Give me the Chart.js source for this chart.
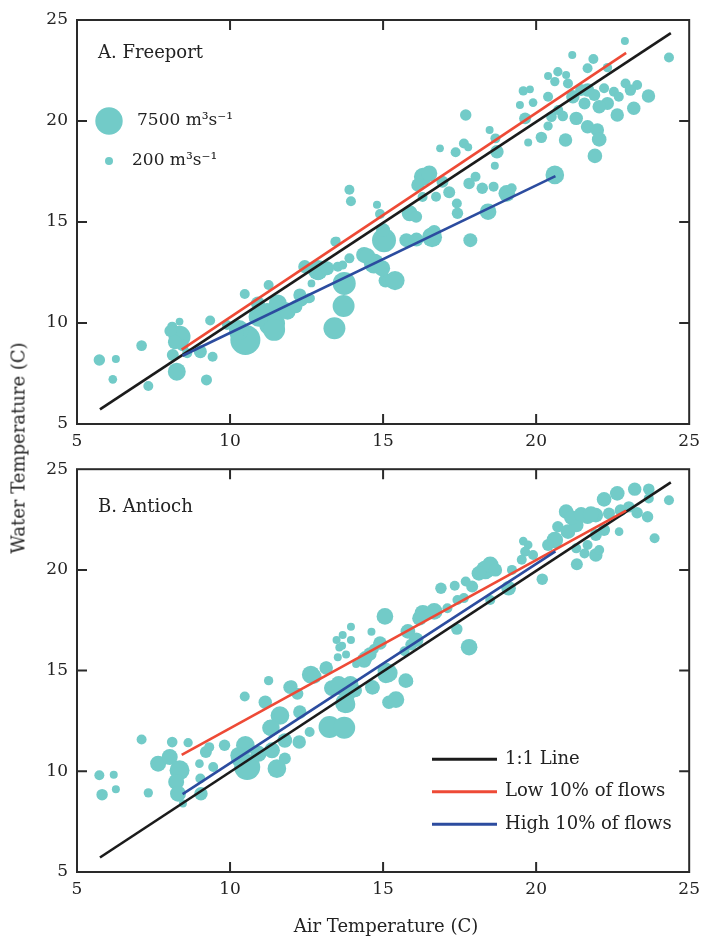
<!DOCTYPE html>
<html>
<head>
<meta charset="utf-8">
<script src="https://cdn.jsdelivr.net/npm/chart.js@4.4.1/dist/chart.umd.min.js"></script>
<style>
  body { margin: 0; background: #fff; }
  #wrap { position: relative; width: 707px; height: 936px; font-family: "DejaVu Serif", serif; color: #222; }
  canvas { position: absolute; left: 0; }
  .axisTitle { position: absolute; font-size: 18px; white-space: nowrap; }
</style>
</head>
<body>
<div id="wrap">
  <canvas id="chartA" width="707" height="450" style="top:0"></canvas>
  <canvas id="chartB" width="707" height="486" style="top:450px"></canvas>
  <div class="axisTitle" id="yTitle" style="left:18px; top:448px; transform: translate(-50%, -50%) rotate(-90deg);">Water Temperature (C)</div>
  <div class="axisTitle" id="xTitle" style="left:386px; top:925px; transform: translate(-50%, -50%);">Air Temperature (C)</div>
</div>
<script>
// Axis ticks
const tickValues = [5, 10, 15, 20, 25];
const innerTicks = [10, 15, 20];

// 1:1 line
const oneToOneAir = [5.75, 24.4];
const oneToOneWater = [5.72, 24.35];

// A. Freeport: air temp (C), water temp (C), flow (m3/s)
const airA = [5.73, 6.27, 6.17, 7.11, 7.33, 8.11, 8.35, 8.35, 8.13, 8.26, 8.6, 9.03, 9.35, 9.43, 9.23, 8.05, 8.45, 8.2,
  10.5, 11.37, 10.93, 10.29, 11.8, 10.21, 11.21, 11.44, 9.9, 10.48, 11.26, 12.28, 12.33, 12.66, 12.87, 12.44, 11.88, 12.64,
  13.52, 13.9, 13.44, 13.73, 13.71, 13.41, 14.38, 14.7, 15.03, 15.08, 15.39, 13.9, 13.95, 13.48, 13.68, 14.49, 14.8, 14.9,
  15.87, 16.08, 16.29, 16.3, 16.51, 16.73, 17.16, 17.41, 17.43, 16.86, 17.37, 17.64, 17.78, 17.7, 18.02, 17.81, 18.24, 18.61,
  18.43, 19.04, 19.2, 20.61, 16.67, 15.76, 16.09, 16.6, 17.85, 18.48, 18.67, 18.72, 18.65, 19.58, 19.8, 19.47, 19.9, 19.64,
  20.39, 20.71, 20.98, 21.04, 20.61, 20.5, 20.39, 20.87, 20.17, 19.74, 20.96, 21.31, 21.58, 21.68, 21.9, 22.22, 22.54, 22.92,
  23.3, 23.08, 22.7, 22.33, 22.65, 23.19, 23.67, 21.68, 22.0, 22.06, 21.92, 22.9, 24.34, 21.18, 21.87, 21.68, 22.33, 20.39, 12.88,
  16.14, 16.94, 15.0, 14.97, 13.17, 11.56, 10.91, 12.15, 12.58, 21.2, 21.47, 22.06, 20.72];
const waterA = [8.17, 8.22, 7.21, 8.88, 6.88, 9.82, 10.07, 9.32, 8.42, 7.59, 8.5, 8.58, 10.12, 8.33, 7.18, 9.6, 8.9, 9.05,
  9.16, 9.98, 10.31, 9.65, 10.64, 9.49, 10.65, 9.66, 9.9, 11.44, 11.88, 11.39, 11.14, 11.96, 12.62, 12.79, 10.56, 11.22,
  12.79, 13.2, 14.02, 11.96, 10.84, 9.74, 13.37, 12.95, 14.1, 12.1, 12.1, 16.6, 16.03, 14.07, 12.87, 13.3, 15.86, 15.4,
  15.43, 15.26, 16.24, 17.24, 17.4, 16.25, 16.47, 15.92, 15.43, 18.65, 18.45, 18.89, 18.7, 20.3, 17.24, 16.91, 16.67, 16.75,
  15.51, 16.42, 16.67, 17.33, 14.52, 14.1, 14.13, 14.25, 14.1, 19.55, 19.14, 18.48, 17.79, 21.49, 21.57, 20.79, 20.91, 20.13,
  22.23, 22.44, 22.28, 21.86, 21.95, 20.21, 19.75, 20.25, 19.19, 18.94, 19.06, 20.13, 20.87, 21.53, 21.29, 21.62, 21.45, 21.86,
  21.78, 21.53, 21.2, 20.87, 20.3, 20.63, 21.24, 19.72, 19.55, 19.09, 18.27, 23.96, 23.14, 23.27, 23.07, 22.61, 22.64, 21.2, 12.46,
  16.83, 16.99, 14.6, 12.71, 12.71, 10.97, 10.97, 10.81, 11.22, 21.2, 21.53, 20.71, 20.54];
const flowA = [1500, 200, 450, 1200, 950, 950, 100, 5450, 1700, 3950, 950, 2100, 950, 950, 1350, 1700, 1700, 2450,
  8500, 7000, 4700, 4700, 3200, 2450, 2450, 5450, 950, 950, 950, 2100, 2100, 100, 4700, 2100, 3200, 200,
  950, 950, 950, 5850, 5450, 5450, 3200, 4700, 6200, 2450, 4400, 950, 950, 200, 600, 3200, 200, 950,
  3200, 1700, 950, 3950, 3200, 950, 1700, 950, 1500, 100, 950, 950, 200, 1500, 950, 1500, 1500, 950,
  3450, 3450, 950, 4200, 2250, 2450, 2450, 4700, 2450, 200, 950, 2250, 200, 700, 100, 200, 450, 1700,
  200, 700, 200, 950, 700, 1200, 700, 1200, 1500, 200, 2250, 2250, 1700, 2250, 1700, 950, 950, 950,
  950, 1500, 950, 2100, 2250, 2250, 2250, 2250, 2250, 2700, 2700, 200, 950, 200, 950, 950, 700, 950, 2450,
  2250, 1700, 2450, 3200, 2450, 3950, 2450, 2100, 950, 2250, 1700, 2250, 950];
const lowAirA = [8.42, 22.94];
const lowWaterA = [8.68, 23.37];
const highAirA = [8.45, 20.63];
const highWaterA = [8.38, 17.27];

// B. Antioch
const airB = [5.73, 5.82, 6.2, 6.27, 7.11, 7.33, 8.11, 8.63, 7.65, 8.03, 8.35, 8.24, 8.3, 8.46, 9.05, 9.03, 9.0, 9.21, 9.32,
  9.45, 9.82, 10.48, 10.5, 10.29, 10.56, 10.93, 11.26, 11.15, 11.53, 11.37, 11.63, 11.31, 11.79, 11.79, 12.26, 12.28, 12.6,
  11.96, 12.64, 13.14, 13.33, 13.63, 13.84, 13.76, 13.25, 13.73, 14.65, 14.38, 14.7, 15.19, 15.08, 13.52, 13.57, 13.79, 14.12,
  13.95, 13.68, 13.48, 13.95, 14.62, 15.42, 15.79, 15.09, 14.69, 14.42, 13.82, 12.75, 13.15, 12.01, 11.68, 11.35,
  23.22, 23.68, 24.34, 23.68, 22.65, 22.22, 20.98, 23.03, 23.3, 23.64, 23.87, 22.71, 21.68, 21.95, 22.38, 22.22, 21.95, 21.31,
  20.71, 21.04, 20.61, 20.39, 21.31, 21.68, 21.95, 22.06, 21.58, 21.33, 20.2, 19.58, 19.74, 19.64, 19.9, 19.53, 18.34, 18.5,
  18.13, 18.67, 17.91, 17.7, 19.21, 19.1, 18.5, 17.34, 16.89, 17.43, 17.64, 17.1, 16.67, 16.3, 16.19, 15.06, 15.81, 16.08,
  15.92, 17.41, 17.81, 14.9, 15.17, 15.74, 15.7,
  12.2, 13.55, 13.93, 14.09, 14.57, 14.84, 10.27, 13.66, 21.15, 21.47, 22.76, 21.79];
const waterB = [9.8, 8.84, 9.83, 9.11, 11.58, 8.93, 11.45, 11.42, 10.38, 10.71, 10.05, 9.47, 8.89, 8.4, 8.89, 9.64, 10.38, 10.96, 11.2,
  10.21, 11.29, 13.71, 11.29, 10.63, 10.21, 10.87, 14.5, 13.43, 10.13, 11.04, 12.77, 12.16, 11.53, 10.63, 11.45, 12.94, 11.95,
  14.17, 14.8, 15.13, 14.13, 14.17, 13.84, 13.38, 12.2, 12.16, 14.17, 15.5, 16.07, 13.43, 15.0, 15.66, 16.15, 15.8, 15.33,
  17.18, 16.77, 16.52, 16.52, 16.93, 13.56, 14.47, 14.79, 14.13, 15.62, 13.31, 14.71, 15.16, 14.22, 12.74, 12.16,
  24.01, 24.01, 23.46, 23.55, 23.8, 23.5, 22.89, 23.13, 22.84, 22.64, 21.57, 21.9, 22.64, 22.72, 22.8, 21.98, 21.73, 22.23,
  22.14, 21.9, 21.48, 21.24, 21.07, 21.24, 20.74, 20.99, 20.82, 20.28, 19.54, 21.43, 21.24, 20.9, 20.74, 20.5, 20.0, 20.25,
  19.83, 20.0, 19.17, 19.42, 20.0, 19.09, 18.51, 19.21, 19.09, 18.51, 18.6, 18.1, 17.94, 17.85, 17.6, 17.69, 16.95, 16.53,
  16.29, 17.06, 16.16, 16.37, 14.88, 14.5, 15.96,
  13.85, 14.34, 14.34, 14.01, 15.83, 16.32, 10.8, 16.24, 22.6, 22.76, 22.96, 22.76];
const flowB = [950, 1500, 200, 200, 950, 700, 1200, 700, 3200, 3200, 4700, 3200, 3200, 200, 2250, 950, 450, 1700, 950,
  950, 1500, 950, 4200, 3200, 7000, 3200, 700, 2250, 4200, 3200, 4200, 3200, 2700, 1700, 2250, 2250, 950,
  2250, 3950, 2250, 3200, 3200, 3200, 4700, 5450, 5450, 2700, 2700, 950, 2250, 3200, 200, 200, 200, 200,
  200, 200, 200, 200, 200, 3450, 1700, 3450, 1700, 2450, 3450, 2700, 1700, 1700, 2700, 3450,
  2250, 1500, 950, 950, 2700, 2700, 2700, 1500, 1500, 1500, 950, 450, 2700, 2700, 1700, 1700, 1700, 2700,
  1500, 2700, 3450, 1700, 950, 950, 2250, 950, 950, 1700, 1500, 450, 450, 950, 950, 950, 4200, 3450,
  2700, 2250, 1700, 950, 950, 2700, 950, 950, 1500, 950, 950, 950, 3450, 3450, 2700, 3450, 2700, 2700,
  1700, 1500, 3450, 2250, 4200, 2700, 950,
  1700, 3200, 3200, 2250, 2250, 950, 3200, 200, 2700, 2700, 1700, 3200];
const lowAirB = [8.42, 22.94];
const lowWaterB = [10.82, 22.94];
const highAirB = [8.45, 20.63];
const highWaterB = [8.87, 20.92];

// legend flows
const legendFlows = [7500, 200];
const legendFlowLabels = ['7500 m³s⁻¹', '200 m³s⁻¹'];
const lineLabels = ['1:1 Line', 'Low 10% of flows', 'High 10% of flows'];

const BUBBLE = 'rgb(114,203,200)';
const LINE_COLORS = ['#1b1b1b', '#ee4a36', '#2c4c9f'];
const FONT = '"DejaVu Serif", serif';

function flowRadius(f) {
  return 4 + (f - 200) * 9.7 / 7300;
}

function pts(xs, ys) {
  return xs.map((x, i) => ({x: x, y: ys[i]}));
}

const framePlugin = {
  id: 'frame',
  afterDatasetsDraw(chart, args, opts) {
    const ctx = chart.ctx;
    const a = chart.chartArea;
    const xs = chart.scales.x, ys = chart.scales.y;
    ctx.save();
    ctx.strokeStyle = '#2a2a2a';
    ctx.lineWidth = 2;
    ctx.strokeRect(a.left, a.top, a.right - a.left, a.bottom - a.top);
    ctx.beginPath();
    innerTicks.forEach(v => {
      const px = xs.getPixelForValue(v);
      ctx.moveTo(px, a.bottom); ctx.lineTo(px, a.bottom - 10);
      ctx.moveTo(px, a.top); ctx.lineTo(px, a.top + 10);
      const py = ys.getPixelForValue(v);
      ctx.moveTo(a.left, py); ctx.lineTo(a.left + 10, py);
      ctx.moveTo(a.right, py); ctx.lineTo(a.right - 10, py);
    });
    ctx.stroke();

    // panel label
    ctx.fillStyle = '#222';
    ctx.textBaseline = 'middle';
    ctx.textAlign = 'left';
    ctx.font = '18px ' + FONT;
    ctx.fillText(opts.title, a.left + 21, a.top + opts.titleDy);

    if (opts.flowLegend) {
      legendFlows.forEach((f, i) => {
        const cy = a.top + 101 + i * 40;
        ctx.fillStyle = BUBBLE;
        ctx.beginPath();
        ctx.arc(a.left + 32, cy, flowRadius(f), 0, Math.PI * 2);
        ctx.fill();
        ctx.fillStyle = '#222';
        ctx.font = '17px ' + FONT;
        ctx.fillText(legendFlowLabels[i], a.left + (i === 0 ? 60 : 55), cy);
      });
    }
    if (opts.lineLegend) {
      lineLabels.forEach((t, i) => {
        const cy = a.top + 290 + i * 32.5;
        ctx.strokeStyle = LINE_COLORS[i];
        ctx.lineWidth = 3;
        ctx.beginPath();
        ctx.moveTo(a.left + 355, cy); ctx.lineTo(a.left + 420, cy);
        ctx.stroke();
        ctx.fillStyle = '#222';
        ctx.font = '18px ' + FONT;
        ctx.fillText(t, a.left + 428, cy);
      });
    }
    ctx.restore();
  }
};

function makePanel(id, air, water, flow, lowAir, lowWater, highAir, highWater, opts) {
  const lineDs = (xs, ys, color) => ({
    type: 'line',
    data: pts(xs, ys),
    borderColor: color,
    borderWidth: 2.6,
    pointRadius: 0,
    fill: false,
    order: 0
  });
  return new Chart(document.getElementById(id), {
    type: 'bubble',
    data: {
      datasets: [
        lineDs(highAir, highWater, LINE_COLORS[2]),
        lineDs(lowAir, lowWater, LINE_COLORS[1]),
        lineDs(oneToOneAir, oneToOneWater, LINE_COLORS[0]),
        {
          type: 'bubble',
          data: air.map((x, i) => ({x: x, y: water[i], r: flowRadius(flow[i])})),
          backgroundColor: BUBBLE,
          borderWidth: 0,
          order: 5
        }
      ]
    },
    options: {
      responsive: false,
      animation: false,
      layout: { padding: { top: opts.padTop, right: 11, left: 0, bottom: 0 } },
      plugins: {
        legend: { display: false },
        tooltip: { enabled: false },
        frame: opts
      },
      scales: {
        x: {
          type: 'linear', min: 5, max: 25,
          afterBuildTicks: s => { s.ticks = tickValues.map(v => ({value: v})); },
          afterFit: s => { s.height = opts.xHeight; },
          grid: { display: false, drawTicks: false },
          border: { display: false },
          ticks: { padding: 7, color: '#222', font: { family: FONT, size: 17 } }
        },
        y: {
          type: 'linear', min: 5, max: 25,
          afterBuildTicks: s => { s.ticks = tickValues.map(v => ({value: v})); },
          afterFit: s => { s.width = 77; },
          grid: { display: false, drawTicks: false },
          border: { display: false },
          ticks: { padding: 9, color: '#222', font: { family: FONT, size: 17 } }
        }
      }
    },
    plugins: [framePlugin]
  });
}

makePanel('chartA', airA, waterA, flowA, lowAirA, lowWaterA, highAirA, highWaterA,
  { title: 'A. Freeport', titleDy: 33, flowLegend: true, lineLegend: false, padTop: 20, xHeight: 26 });
makePanel('chartB', airB, waterB, flowB, lowAirB, lowWaterB, highAirB, highWaterB,
  { title: 'B. Antioch', titleDy: 38, flowLegend: false, lineLegend: true, padTop: 18, xHeight: 64 });
</script>
</body>
</html>
